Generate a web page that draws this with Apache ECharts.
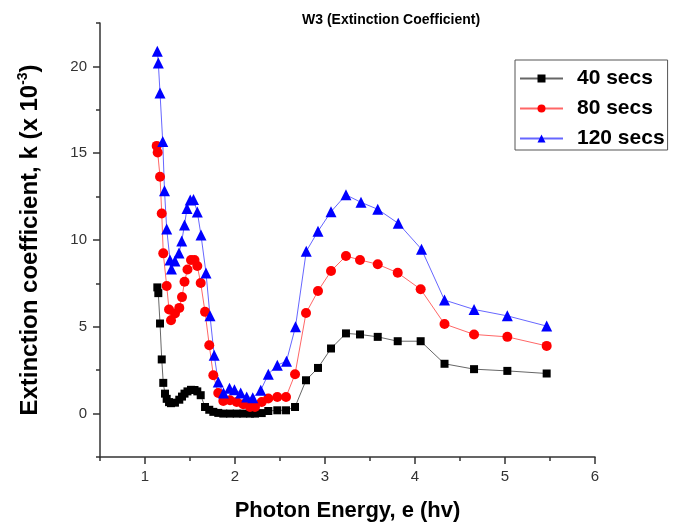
<!DOCTYPE html>
<html>
<head>
<meta charset="utf-8">
<script src="https://cdn.jsdelivr.net/npm/echarts@6/dist/echarts.min.js"></script>
<style>
html,body{margin:0;padding:0;background:#fff;}
#chart{width:673px;height:527px;}
</style>
</head>
<body>
<div id="chart"></div>
<script>
// Photon energy (eV) and extinction coefficient k (x10^-3) per deposition time
var e40 = [1.137,1.148,1.167,1.186,1.203,1.222,1.241,1.267,1.289,1.333,1.381,1.411,1.439,1.472,1.511,1.550,1.581,1.619,1.667,1.714,1.759,1.814,1.870,1.944,2.019,2.092,2.167,2.222,2.297,2.370,2.470,2.567,2.667,2.789,2.922,3.067,3.233,3.389,3.586,3.808,4.063,4.328,4.656,5.026,5.463];
var k40 = [7.27,6.94,5.19,3.12,1.77,1.15,0.85,0.66,0.60,0.63,0.80,0.98,1.15,1.28,1.37,1.36,1.28,1.06,0.38,0.22,0.10,0.04,0.0,0.0,0.0,0.0,0.0,0.0,0.03,0.15,0.19,0.19,0.38,1.92,2.63,3.75,4.62,4.56,4.42,4.17,4.17,2.87,2.56,2.46,2.31];

var e80 = [1.130,1.141,1.167,1.186,1.203,1.241,1.267,1.289,1.333,1.381,1.411,1.439,1.472,1.511,1.550,1.581,1.619,1.667,1.714,1.759,1.814,1.870,1.944,2.019,2.092,2.167,2.222,2.297,2.370,2.470,2.567,2.667,2.789,2.922,3.067,3.233,3.389,3.586,3.808,4.063,4.328,4.656,5.026,5.463];
var k80 = [15.42,15.04,13.64,11.53,9.23,7.35,6.0,5.38,5.77,6.09,6.71,7.59,8.30,8.85,8.85,8.50,7.52,5.86,3.94,2.21,1.19,0.73,0.77,0.67,0.54,0.38,0.38,0.67,0.87,0.96,0.96,2.27,5.79,7.06,8.21,9.08,8.85,8.60,8.11,7.16,5.16,4.56,4.42,3.90];

var e120 = [1.137,1.148,1.167,1.197,1.217,1.241,1.278,1.294,1.333,1.378,1.408,1.439,1.467,1.503,1.539,1.581,1.622,1.678,1.722,1.769,1.814,1.872,1.939,1.994,2.063,2.130,2.197,2.286,2.370,2.470,2.572,2.672,2.792,2.922,3.067,3.233,3.400,3.586,3.814,4.072,4.328,4.656,5.026,5.463];
var k120 = [20.87,20.20,18.47,15.67,12.83,10.63,8.85,8.33,8.79,9.25,9.94,10.87,11.82,12.31,12.34,11.62,10.29,8.10,5.64,3.36,1.82,1.19,1.46,1.38,1.19,0.96,0.92,1.34,2.27,2.79,3.02,5.0,9.35,10.50,11.63,12.60,12.17,11.77,10.96,9.47,6.54,6.0,5.63,5.04];

var seriesNames = ['40 secs','80 secs','120 secs'];
var xMajorTicks = [1,2,3,4,5,6];
var xMinorTicks = [0.5,1.5,2.5,3.5,4.5,5.5];
var yMajorTicks = [0,5,10,15,20];
var yMinorTicks = [-2.5,2.5,7.5,12.5,17.5,22.5];

function pairs(xs, ys){ return xs.map(function(x,i){ return [x, ys[i]]; }); }

var FONT = '"Liberation Sans", Arial, sans-serif';
var axisColor = '#333';

var chart = echarts.init(document.getElementById('chart'), null, {renderer:'canvas'});
chart.setOption({
  animation:false,
  backgroundColor:'#fff',
  title:{
    text:'W3 (Extinction Coefficient)',
    left:297, top:8,
    textStyle:{fontSize:14, fontWeight:'bold', color:'#000', fontFamily:FONT}
  },
  legend:{
    left:515, top:60, orient:'vertical',
    itemWidth:43, itemHeight:10, itemGap:9,
    padding:[8,3,1,4],
    borderColor:'#555', borderWidth:1,
    textStyle:{fontSize:21, fontWeight:'bold', color:'#000', fontFamily:FONT, padding:[0,0,0,9]},
    data:seriesNames
  },
  grid:{left:100, right:78, top:23, bottom:69},
  xAxis:[{
    type:'value', min:0.5, max:6,
    name:'Photon Energy, e (hv)', nameLocation:'middle', nameGap:43,
    nameTextStyle:{fontSize:22, fontWeight:'bold', color:'#000', fontFamily:FONT},
    axisLine:{show:true, onZero:false, lineStyle:{color:axisColor, width:1.5}},
    axisTick:{show:true, length:7, customValues:xMajorTicks, lineStyle:{color:axisColor, width:1.5}},
    axisLabel:{customValues:xMajorTicks, margin:12, fontSize:15, color:'#333', fontFamily:FONT},
    splitLine:{show:false}
  },{
    type:'value', min:0.5, max:6, position:'bottom',
    axisLine:{show:false, onZero:false},
    axisTick:{show:true, length:4, customValues:xMinorTicks, lineStyle:{color:axisColor, width:1.5}},
    axisLabel:{show:false},
    splitLine:{show:false}
  }],
  yAxis:[{
    type:'value', min:-2.5, max:22.5,
    name:'Extinction coefficient, k (x 10{sup|-3})', nameLocation:'middle', nameGap:56,
    nameTextStyle:{fontSize:24, fontWeight:'bold', color:'#000', fontFamily:FONT,
      rich:{sup:{fontSize:14, fontWeight:'bold', color:'#000', fontFamily:FONT, verticalAlign:'top', lineHeight:28}}},
    axisLine:{show:true, onZero:false, lineStyle:{color:axisColor, width:1.5}},
    axisTick:{show:true, length:7, customValues:yMajorTicks, lineStyle:{color:axisColor, width:1.5}},
    axisLabel:{customValues:yMajorTicks, margin:13, fontSize:15, color:'#333', fontFamily:FONT},
    splitLine:{show:false}
  },{
    type:'value', min:-2.5, max:22.5, position:'left',
    axisLine:{show:false, onZero:false},
    axisTick:{show:true, length:4, customValues:yMinorTicks, lineStyle:{color:axisColor, width:1.5}},
    axisLabel:{show:false},
    splitLine:{show:false}
  }],
  series:[{
    name:seriesNames[0], type:'line', data:pairs(e40,k40),
    symbol:'rect', symbolSize:8,
    itemStyle:{color:'#000'},
    lineStyle:{color:'#000', width:1, opacity:0.6}
  },{
    name:seriesNames[1], type:'line', data:pairs(e80,k80),
    symbol:'circle', symbolSize:10,
    itemStyle:{color:'#ff0000'},
    lineStyle:{color:'#ff0000', width:1, opacity:0.6}
  },{
    name:seriesNames[2], type:'line', data:pairs(e120,k120),
    symbol:'triangle', symbolSize:11,
    itemStyle:{color:'#0000ff'},
    lineStyle:{color:'#0000ff', width:1, opacity:0.6}
  }]
});
</script>
</body>
</html>
